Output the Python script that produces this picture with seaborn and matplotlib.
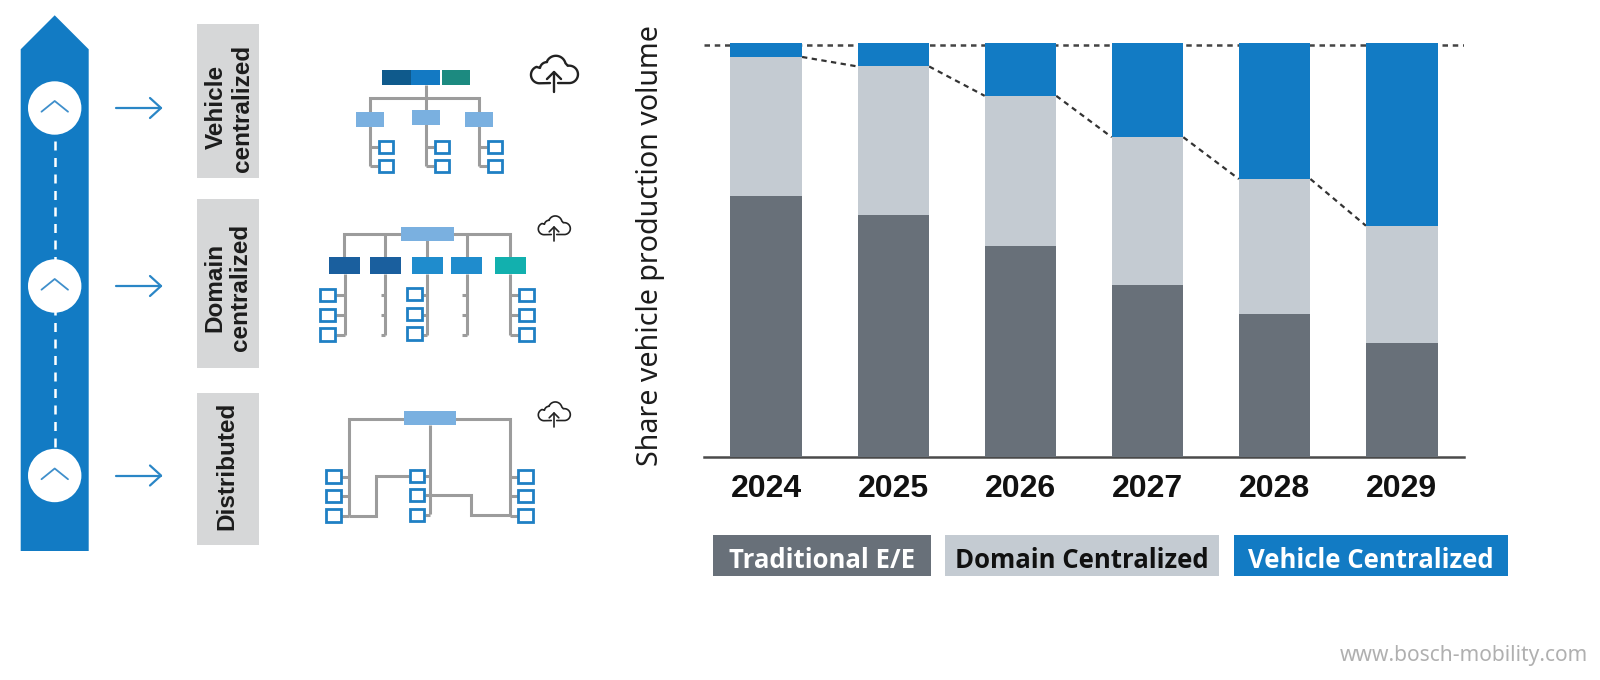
import numpy as np
import pandas as pd
import seaborn as sns
import matplotlib.pyplot as plt
from matplotlib.patches import Rectangle, Circle, Polygon

# Data (share in %)
years = ['2024', '2025', '2026', '2027', '2028', '2029']
traditional = [63.0, 58.6, 51.0, 41.6, 34.5, 27.6]
domain = [33.7, 35.8, 36.3, 35.7, 32.7, 28.3]
vehicle = [3.3, 5.6, 12.7, 22.7, 32.8, 44.1]
legend_names = ['Traditional E/E', 'Domain Centralized', 'Vehicle Centralized']

GREY_DARK = '#687079'
GREY_LIGHT = '#c4cbd2'
BLUE = '#127bc4'
LINE = '#9c9c9c'
LIGHT_BLUE = '#7ab0e0'

sns.set_theme(style='white')
plt.rcParams['font.family'] = ['Noto Sans', 'DejaVu Sans']

fig = plt.figure(figsize=(16, 6.8), dpi=100)

# Pixel overlay for the diagrams on the left and the legend chips
bg = fig.add_axes([0, 0, 1, 1])
bg.set_xlim(0, 1600)
bg.set_ylim(680, 0)
bg.axis('off')

# Stacked bars
ax = fig.add_axes([704 / 1600, 1 - 457 / 680, 760 / 1600, 413.7 / 680])
ax.patch.set_alpha(0)
df = pd.DataFrame({'year': years, 'traditional': traditional, 'domain': domain, 'vehicle': vehicle})
bar_w = 0.563
below = df['traditional'] + df['domain']
bar_kws = dict(saturation=1, width=bar_w, ax=ax, zorder=3, edgecolor='none', linewidth=0)
sns.barplot(data=df, x='year', y='traditional', color=GREY_DARK, **bar_kws)
sns.barplot(data=df, x='year', y='domain', bottom=df['traditional'], color=GREY_LIGHT, **bar_kws)
sns.barplot(data=df, x='year', y='vehicle', bottom=below, color=BLUE, **bar_kws)

ax.set_xlim(-0.49, 5.49)
ax.set_ylim(0, 100)
ax.set_yticks([])
ax.set_xlabel('')
ax.set_ylabel('Share vehicle production volume', fontsize=20.6, color='#1c1c1c', labelpad=0)
ax.yaxis.set_label_coords(-0.051, 0.5115)
ax.tick_params(axis='x', length=0, pad=12)
for lab in ax.get_xticklabels():
    lab.set_fontsize(23)
    lab.set_fontweight('bold')
    lab.set_color('#111111')
    lab.set_family(['Liberation Sans'])
sns.despine(ax=ax, left=True)
ax.spines['bottom'].set_color('#4a4a4a')
ax.spines['bottom'].set_linewidth(1.8)

# dotted line on top + connectors between the blue segments
ax.axhline(99.7, color='#444444', lw=1.8, ls=(0, (2.2, 1.9)), zorder=1)
for i in range(len(years) - 1):
    ax.plot([i + bar_w / 2, i + 1 - bar_w / 2], [below[i], below[i + 1]],
            color='#333333', lw=1.6, ls=(0, (2.4, 2.0)), zorder=2)

# Legend chips
chips = [(713, 931, GREY_DARK, 'white'), (945, 1219, GREY_LIGHT, '#111111'), (1234, 1508, BLUE, 'white')]
for (x0, x1, col, tc), name in zip(chips, legend_names):
    bg.add_patch(Rectangle((x0, 535), x1 - x0, 40.5, fc=col, ec='none'))
    bg.text((x0 + x1) / 2, 560, name, ha='center', va='center', color=tc, fontsize=18.5, fontweight='bold',
            family=['Open Sans', 'DejaVu Sans'])

bg.text(1588, 656, 'www.bosch-mobility.com', ha='right', va='center', color='#b0b0b0', fontsize=15.1)

# Big arrow on the left
bg.add_patch(Polygon([(20.7, 551), (20.7, 49.3), (54.7, 15.3), (88.7, 49.3), (88.7, 551)], fc=BLUE, ec='none'))
circle_y = [108, 286, 475.5]
bg.plot([54.7, 54.7], [circle_y[0], circle_y[2]], color='white', lw=1.8, ls=(0, (3.6, 3)))
for cy in circle_y:
    bg.add_patch(Circle((54.7, cy), 26.7, fc='white', ec='none', zorder=3))
    bg.plot([41.5, 54.7, 68], [cy + 3.7, cy - 7, cy + 3.7], color='#3f8fcb', lw=1.3, zorder=4)
    bg.plot([116, 161], [cy, cy], color='#2a86c6', lw=1.6)
    bg.plot([150, 161, 150], [cy - 10, cy, cy + 10], color='#2a86c6', lw=1.6)

# Grey label boxes
boxes = [(24, 178.3), (199.3, 368.4), (392.9, 545)]
for y0, y1 in boxes:
    bg.add_patch(Rectangle((196.7, y0), 62, y1 - y0, fc='#d6d7d8', ec='none'))
labels = [(216, 107, 'Vehicle'), (243, 108, 'centralized'), (215, 287, 'Domain'), (241, 287, 'centralized'), (226.5, 466, 'Distributed')]
for x, y, s in labels:
    bg.text(x, y, s, rotation=90, ha='center', va='center', fontsize=17.5, fontweight='bold',
            color='#1c1c1c', family=['Liberation Sans'])


def wire(pts, ox, oy):
    xs = [ox + p[0] / 3 for p in pts]
    ys = [oy + p[1] / 3 for p in pts]
    bg.plot(xs, ys, color=LINE, lw=2.2, solid_joinstyle='miter', solid_capstyle='butt', zorder=2)


def block(x0, x1, y0, y1, col, ox, oy):
    bg.add_patch(Rectangle((ox + x0 / 3, oy + y0 / 3), (x1 - x0) / 3, (y1 - y0) / 3, fc=col, ec='none', zorder=3))


def node(x0, x1, y0, y1, ox, oy):
    bg.add_patch(Rectangle((ox + x0 / 3 + 0.7, oy + y0 / 3 + 0.7), (x1 - x0) / 3 - 1.4, (y1 - y0) / 3 - 1.4,
                           fc='white', ec='#1f80c4', lw=2, zorder=3))


def arc(cx, cy, r, t0, t1):
    t = np.radians(np.linspace(t0, t1, 30))
    return np.column_stack([cx + r * np.cos(t), cy - r * np.sin(t)])


def cloud(cx, cy, half, lw):
    # outline with a gap at the bottom for the arrow
    pts = np.vstack([[[-0.17, 0.47]],
                     arc(-0.62, 0.12, 0.36, 270, 110),
                     arc(-0.3, -0.12, 0.3, 170, 90),
                     arc(0.08, -0.27, 0.42, 150, 15),
                     arc(0.65, 0.1, 0.37, 100, -90),
                     [[0.17, 0.47]]])
    bg.plot(cx + pts[:, 0] * half, cy + pts[:, 1] * half, color='#222222', lw=lw, zorder=4)
    bg.plot([cx, cx], [cy + 0.85 * half, cy + 0.02 * half], color='#222222', lw=lw, zorder=4)
    bg.plot([cx - 0.3 * half, cx, cx + 0.3 * half], [cy + 0.3 * half, cy, cy + 0.3 * half], color='#222222', lw=lw, zorder=4)


# Vehicle centralized diagram
ox, oy = 300, 30
wire([(378, 165), (378, 408)], ox, oy)
wire([(210, 408), (210, 205), (537, 205), (537, 408)], ox, oy)
block(247, 332, 119, 165, '#0f5a8c', ox, oy)
block(332, 420, 119, 165, '#1379c3', ox, oy)
block(426, 509, 119, 165, '#1c8a80', ox, oy)
block(168, 251, 246, 291, LIGHT_BLUE, ox, oy)
block(337, 420, 241, 286, LIGHT_BLUE, ox, oy)
block(496, 579, 246, 291, LIGHT_BLUE, ox, oy)
for vx, sq in [(210, 234), (378, 402), (537, 562)]:
    for y in (352, 408):
        wire([(vx, y), (sq, y)], ox, oy)
        node(sq, sq + 46, y - 20, y + 20, ox, oy)
cloud(554, 72, 23.5, 1.7)

# Domain centralized diagram
wire([(132, 682), (132, 612), (630, 612), (630, 682)], ox, oy)
for vx in (255, 380, 502):
    wire([(vx, 612), (vx, 682)], ox, oy)
for x0, x1, col in [(88, 181, '#1a5f9e'), (210, 303, '#1a5f9e'), (337, 430, '#1f8ccd'), (454, 547, '#1f8ccd'), (585, 678, '#12b0ae')]:
    block(x0, x1, 682, 732, col, ox, oy)
block(303, 462, 592, 634, LIGHT_BLUE, ox, oy)
for vx in (134, 256, 380, 500, 630):
    wire([(vx, 732), (vx, 916)], ox, oy)
for y in (796, 855, 914):
    wire([(108, y), (134, y)], ox, oy)
    wire([(243, y), (256, y)], ox, oy)
    wire([(368, y), (380, y)], ox, oy)
    wire([(487, y), (500, y)], ox, oy)
    wire([(630, y), (656, y)], ox, oy)
    node(58, 108, y - 21, y + 20, ox, oy)
    node(318, 368, y - 24, y + 17, ox, oy)
    node(656, 704, y - 21, y + 20, ox, oy)
cloud(554, 227, 16, 1.2)

# Distributed diagram
ox, oy = 300, 370
wire([(148, 437), (148, 146), (630, 146), (630, 437)], ox, oy)
wire([(390, 166), (390, 433)], ox, oy)
wire([(148, 437), (228, 437), (228, 317), (327, 317)], ox, oy)
wire([(390, 375), (514, 375), (514, 435), (630, 435)], ox, oy)
block(313, 467, 124, 166, LIGHT_BLUE, ox, oy)
for y in (320, 378, 437):
    wire([(124, y), (148, y)], ox, oy)
    wire([(630, y), (653, y)], ox, oy)
    wire([(375, y - 3), (390, y - 3)], ox, oy)
    node(76, 124, y - 21, y + 21, ox, oy)
    node(327, 375, y - 23, y + 18, ox, oy)
    node(653, 701, y - 21, y + 20, ox, oy)
cloud(554, 413, 16, 1.2)

fig.savefig('out.png', dpi=100)
